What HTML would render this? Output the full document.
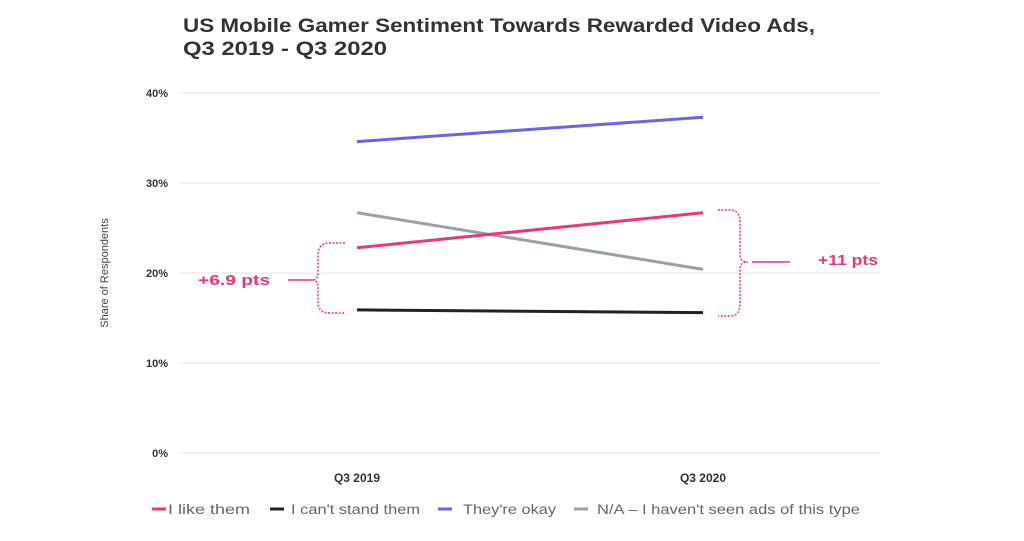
<!DOCTYPE html>
<html><head><meta charset="utf-8"><style>
body{margin:0;background:#fff;font-family:"Liberation Sans",sans-serif}
svg text{font-family:"Liberation Sans",sans-serif}
</style></head><body>
<svg width="1024" height="536" viewBox="0 0 1024 536">
<text x="183" y="32" font-size="19" font-weight="bold" fill="#333" textLength="632" lengthAdjust="spacingAndGlyphs">US Mobile Gamer Sentiment Towards Rewarded Video Ads,</text>
<text x="183" y="55" font-size="19" font-weight="bold" fill="#333" textLength="204" lengthAdjust="spacingAndGlyphs">Q3 2019 - Q3 2020</text>
<g id="grid"></g>
<g id="yt"></g>
<g id="xt"></g>
<text transform="translate(108,273) rotate(-90)" text-anchor="middle" font-size="11" fill="#444">Share of Respondents</text>
<g id="lines"></g>
<g fill="none" stroke="#e8387a" stroke-width="1.5" stroke-dasharray="2,1.5">
<path d="M345 243 H330 Q318 243 318 255 V273 Q318 280 312 280 Q318 280 318 287 V302 Q318 313 330 313 H345"/>
</g>
<line x1="288" y1="280" x2="312" y2="280" stroke="#e8387a" stroke-width="1.5"/>
<text x="198" y="285" font-size="15" font-weight="bold" fill="#e8387a" textLength="72" lengthAdjust="spacingAndGlyphs">+6.9 pts</text>
<g fill="none" stroke="#e8387a" stroke-width="1.5" stroke-dasharray="2,1.5">
<path d="M718 210 H730 Q740 210 740 222 V255 Q740 262 748 262 Q740 262 740 269 V304 Q740 316 730 316 H718"/>
</g>
<line x1="752" y1="262" x2="790" y2="262" stroke="#e8387a" stroke-width="1.5"/>
<text x="818" y="265" font-size="15" font-weight="bold" fill="#e8387a" textLength="60" lengthAdjust="spacingAndGlyphs">+11 pts</text>
<g id="legend"></g>
</svg>
<script>
const categories=["Q3 2019","Q3 2020"];
const yTicks=[0,10,20,30,40];
const likeThem=[22.8,26.7];
const cantStand=[15.9,15.6];
const okay=[34.6,37.3];
const notSeen=[26.7,20.4];
const seriesNames=["I like them","I can't stand them","They're okay","N/A – I haven't seen ads of this type"];
const NS="http://www.w3.org/2000/svg";
function y(v){return 453-v*9;}
function x(i){return 357+i*346;}
function mk(t,a,p){const e=document.createElementNS(NS,t);for(const k in a)e.setAttribute(k,a[k]);p.appendChild(e);return e;}
const grid=document.getElementById('grid'),yt=document.getElementById('yt'),xt=document.getElementById('xt');
yTicks.forEach(v=>{
 const l=mk('line',{x1:180,x2:880,y1:y(v),y2:y(v),stroke:'#e6e6e6','stroke-width':1},grid);
 
 
 const t=mk('text',{x:168,y:y(v)+4,'text-anchor':'end','font-size':11,'font-weight':'bold',fill:'#333'},yt);
 t.textContent=v+'%';
 
 
});
categories.forEach((c,i)=>{
 const t=mk('text',{x:x(i),y:482,'text-anchor':'middle','font-size':12,'font-weight':'bold',fill:'#333'},xt);
 t.textContent=c;
 
 
});
const series=[[likeThem,'#e8387a'],[cantStand,'#222'],[okay,'#6b63e8'],[notSeen,'#9a9fb0']];
const lg=document.getElementById('lines');
const ids=['line-like-them','line-cant-stand','line-okay','line-not-seen'];
const order=[3,2,1,0];
order.forEach(si=>{
 const s=series[si];
 const pts=s[0].map((v,i)=>x(i)+','+y(v)).join(' ');
 const p=mk('polyline',{points:pts,fill:'none',stroke:s[1],'stroke-width':3},lg);
 
 
});
const leg=document.getElementById('legend');
const lx=[152,270,438,574];
const tx=[168,291,463,597];
const tw=[82,129,93,263];
seriesNames.forEach((n,i)=>{
 const l=mk('line',{x1:lx[i],x2:lx[i]+14,y1:509,y2:509,stroke:series[i][1],'stroke-width':3},leg);
 
 
 const t=mk('text',{x:tx[i],y:514,'font-size':13.5,fill:'#666',textLength:tw[i],lengthAdjust:'spacingAndGlyphs'},leg);
 t.textContent=n;
 
 
});
</script>
</body></html>
